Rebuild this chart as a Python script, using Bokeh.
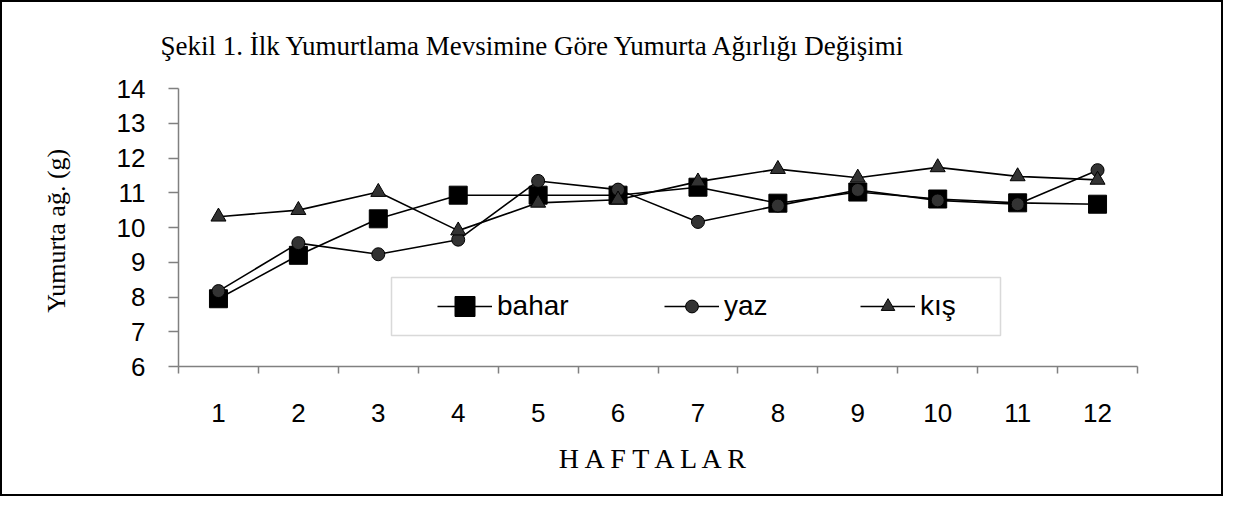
from bokeh.plotting import figure
from bokeh.models import Range1d, FixedTicker, Legend, LegendItem, BoxAnnotation
from bokeh.embed import file_html
from bokeh.resources import INLINE

# ---- data ----
weeks = [1, 2, 3, 4, 5, 6, 7, 8, 9, 10, 11, 12]
week_labels = ["1", "2", "3", "4", "5", "6", "7", "8", "9", "10", "11", "12"]
bahar = [7.95, 9.20, 10.25, 10.93, 10.93, 10.93, 11.16, 10.70, 11.02, 10.82, 10.71, 10.67]
yaz = [8.17, 9.55, 9.23, 9.65, 11.34, 11.09, 10.16, 10.63, 11.08, 10.78, 10.67, 11.65]
kis = [10.31, 10.50, 11.02, 9.91, 10.71, 10.80, 11.32, 11.68, 11.43, 11.73, 11.47, 11.37]
y_ticks = [6, 7, 8, 9, 10, 11, 12, 13, 14]

title_text = "Şekil 1. İlk Yumurtlama Mevsimine Göre Yumurta Ağırlığı Değişimi"
x_title = "H A F T A L A R"
y_title = "Yumurta  ağ. (g)"

W, H = 1223, 496
FL, FR, FT, FB = 178, 1137, 85, 366   # plot frame edges in canvas px
SANS = "Liberation Sans"
SERIF = "Liberation Serif"
GREY = "#808080"

p = figure(width=W, height=H, output_backend="svg", toolbar_location=None,
           x_range=Range1d(0.5, 12.5), y_range=Range1d(6, 14),
           min_border_left=FL, min_border_right=W - FR, min_border_top=FT,
           min_border_bottom=H - FB)
p.outline_line_color = None
p.xgrid.visible = False
p.ygrid.visible = False
p.background_fill_color = None
p.border_fill_color = None
p.styles = {"outline": "2px solid black", "outline-offset": "-2px",
            "background-color": "white"}

# title
p.title.text = title_text
p.title.text_font = SERIF
p.title.text_font_size = "27px"
p.title.text_font_style = "normal"
p.title.text_color = "black"
p.title.align = "left"
p.title.offset = -18
p.title.standoff = 56

# axes
ya = p.yaxis[0]
ya.ticker = FixedTicker(ticks=y_ticks)
ya.axis_line_color = GREY
ya.axis_line_width = 1.5
ya.major_tick_line_color = GREY
ya.major_tick_line_width = 1.5
ya.major_tick_out = 10
ya.major_tick_in = 0
ya.minor_tick_line_color = None
ya.major_label_text_font = SANS
ya.major_label_text_font_size = "26px"
ya.major_label_text_color = "black"
ya.major_label_standoff = 23
ya.axis_label = y_title
ya.axis_label_text_font = SERIF
ya.axis_label_text_font_size = "26px"
ya.axis_label_text_font_style = "normal"
ya.axis_label_text_color = "black"
ya.axis_label_standoff = 43

xa = p.xaxis[0]
xa.ticker = FixedTicker(ticks=weeks, minor_ticks=[w - 0.5 for w in weeks] + [12.5])
xa.major_label_overrides = {w: lab for w, lab in zip(weeks, week_labels)}
xa.axis_line_color = GREY
xa.axis_line_width = 1.5
xa.major_tick_out = 0
xa.major_tick_in = 0
xa.minor_tick_line_color = GREY
xa.minor_tick_line_width = 1.5
xa.minor_tick_out = 7
xa.minor_tick_in = 0
xa.major_label_text_font = SANS
xa.major_label_text_font_size = "26px"
xa.major_label_text_color = "black"
xa.major_label_standoff = 30
xa.axis_label = x_title
xa.axis_label_text_font = SERIF
xa.axis_label_text_font_size = "28px"
xa.axis_label_text_font_style = "normal"
xa.axis_label_text_color = "black"
xa.axis_label_standoff = 18

# series
lb = p.line(weeks, bahar, line_color="black", line_width=1.6)
mb = p.scatter(weeks, bahar, marker="square", size=18, fill_color="black", line_color="black")
ly = p.line(weeks, yaz, line_color="black", line_width=1.6)
my = p.scatter(weeks, yaz, marker="circle", size=13, fill_color="#333333", line_color="black", line_width=1)
lk = p.line(weeks, kis, line_color="black", line_width=1.6)
mk = p.scatter(weeks, kis, marker="triangle", size=15, fill_color="#333333", line_color="black", line_width=1)

# legend frame (screen units are relative to the plot frame, y up from its bottom)
p.add_layout(BoxAnnotation(left=213, right=822, bottom=31, top=89,
                           left_units="screen", right_units="screen",
                           bottom_units="screen", top_units="screen",
                           fill_alpha=0, line_color=GREY, line_width=1.5))

def make_legend(label, rends, x, gh):
    lg = Legend(items=[LegendItem(label=label, renderers=rends)],
                location=(x, 60 - gh / 2), orientation="horizontal",
                glyph_width=55, glyph_height=gh, label_height=gh,
                label_standoff=5, padding=0, margin=0, spacing=0,
                border_line_alpha=0, background_fill_alpha=0,
                label_text_font=SANS, label_text_font_size="28px",
                label_text_color="black")
    p.add_layout(lg, "center")

make_legend("bahar", [lb, mb], 259, 50)
make_legend("yaz", [ly, my], 486, 32)
make_legend("kış", [lk, mk], 682, 34)

open("out.html", "w").write(file_html(p, INLINE))
